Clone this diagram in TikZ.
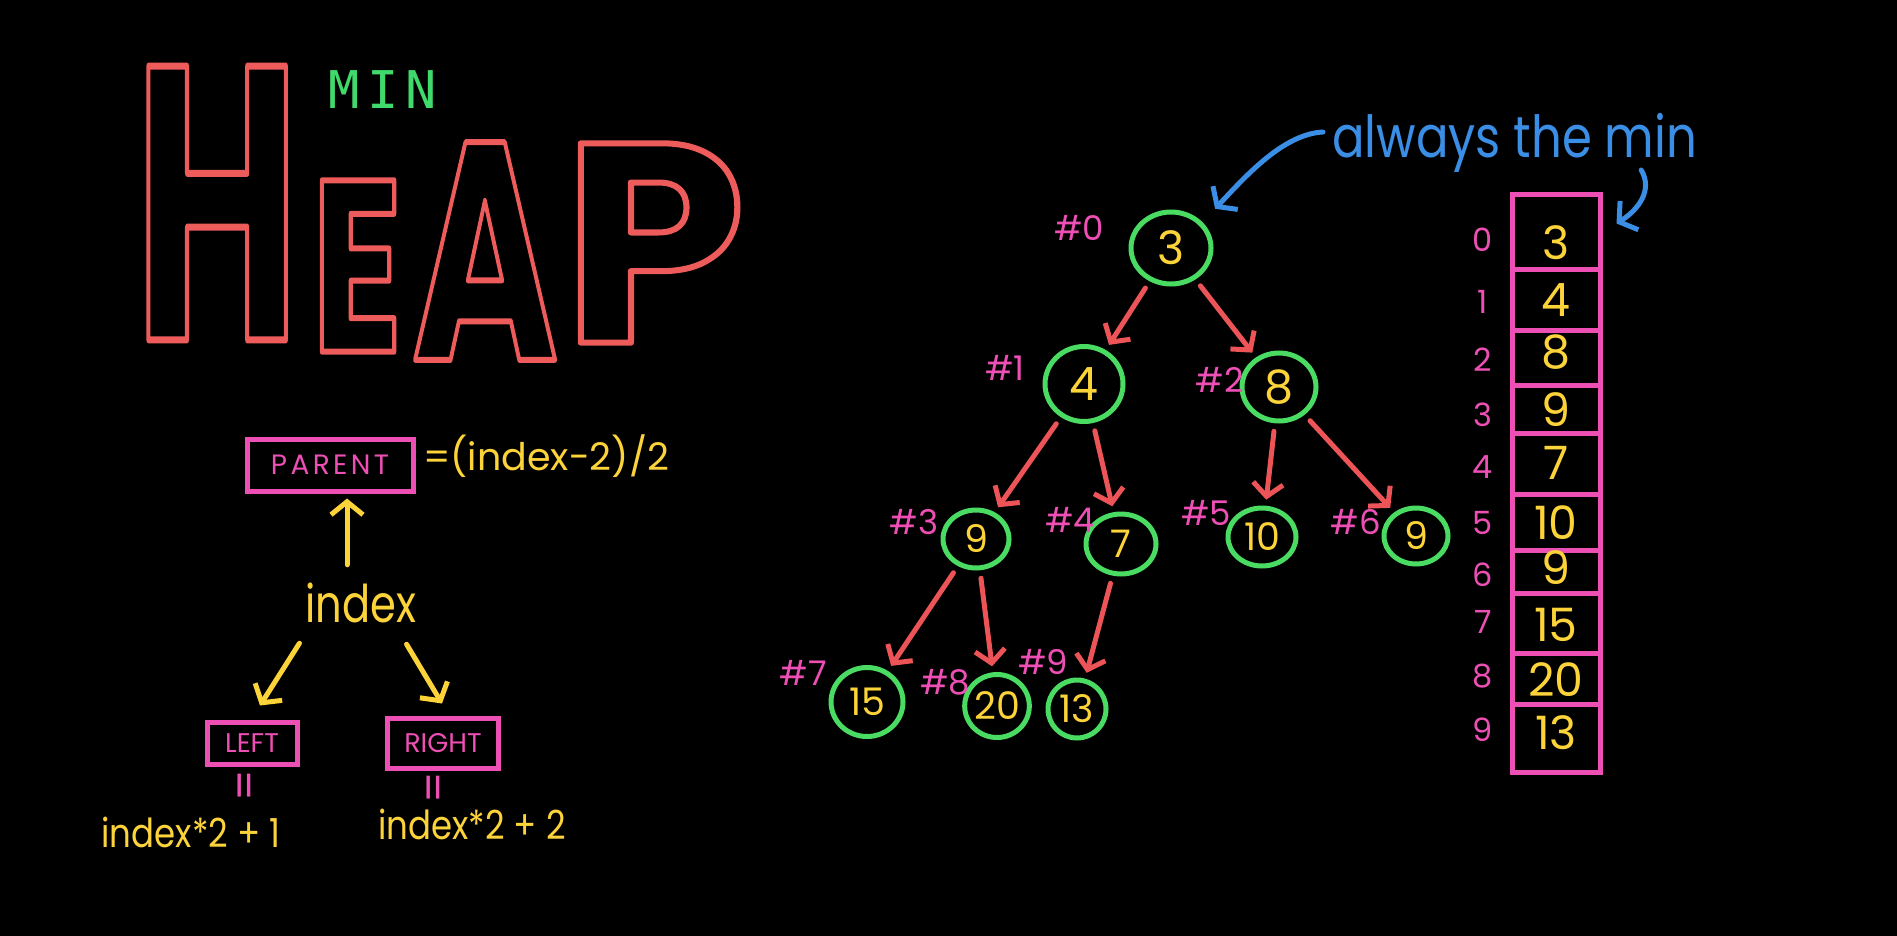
\documentclass[tikz,border=0pt]{standalone}
\usepackage{fontspec}
\usepackage{graphicx}
\setmainfont{Poppins}
\newfontfamily\minfont{DejaVu Sans Mono}
\usetikzlibrary{arrows.meta,shapes.geometric}
\definecolor{heapred}{HTML}{EE5B5B}
\definecolor{mingreen}{HTML}{40D96B}
\definecolor{circgreen}{HTML}{4ADB62}
\definecolor{pinkc}{HTML}{EE4FB5}
\definecolor{yellowc}{HTML}{FDD33A}
\definecolor{arrowred}{HTML}{EC5457}
\definecolor{bluec}{HTML}{3B8EE5}
\newcommand\outl[2]{\special{pdf:literal direct 1 Tr #1 w 1 j}#2\special{pdf:literal direct 0 Tr}}
\newcommand\narrow[2]{\scalebox{#1}[1]{#2}}
\newcommand\fs[1]{\fontsize{#1}{#1}\selectfont}
\begin{document}
\begin{tikzpicture}[x=1pt,y=-1pt,
  letter/.style={inner sep=0pt, text=heapred},
  tnode/.style 2 args={ellipse, draw=circgreen, line width=5pt, inner sep=0pt, minimum width=#1, minimum height=#2, text=yellowc},
  big/.style={font=\fs{46}},
  small/.style={font=\fs{38}},
  hashlabel/.style={text=pinkc, inner sep=0pt, font=\fs{34}},
  tarrow/.style={draw=arrowred, line width=5pt, line cap=round, line join=round, -{Straight Barb[length=13pt,width=30pt]}},
  yarrow/.style={draw=yellowc, line width=5pt, line cap=round, line join=round, -{Straight Barb[length=13pt,width=32pt]}},
  barrow/.style={draw=bluec, line width=5pt, line cap=round, line join=round, -{Straight Barb[length=12pt,width=34pt]}},
  pbox/.style={draw=pinkc, line width=5pt, text=pinkc, inner sep=0pt},
  cell/.style={draw=pinkc, line width=5pt, minimum width=88pt, inner sep=0pt},
  cellval/.style={text=yellowc, inner sep=0pt, font=\fs{46}},
  idxlabel/.style={text=pinkc, inner sep=0pt, font=\fs{32}},
  ytext/.style={text=yellowc, inner sep=0pt},
  eqmark/.style={text=pinkc, inner sep=0pt, rotate=90, font=\fs{44}},
]
\fill[black] (0,0) rectangle (1897,936);
\useasboundingbox (0,0) rectangle (1897,936);

% HEAP title
\node[letter] (H) at (217,203) {\fs{390}\bfseries\narrow{0.58}{\outl{7}{H}}};
\node[letter] (E) at (357,266) {\fs{244}\bfseries\narrow{0.69}{\outl{6}{E}}};
\node[letter] (A) at (485,251) {\fs{310}\bfseries\narrow{0.64}{\outl{6}{A}}};
\node[letter] (P) at (654,243) {\fs{284}\bfseries\narrow{1.03}{\outl{6}{P}}};
\node[inner sep=0pt, text=mingreen] (min) at (383,90) {\minfont\fs{52}\addfontfeatures{LetterSpace=14}MIN};

% formulas
\node[pbox, minimum width=166pt, minimum height=52pt, font=\fs{28}] (par) at (330,465) {\addfontfeatures{LetterSpace=12}PARENT};
\node[ytext, anchor=west, font=\fs{38}] (form) at (423,456) {=(index-2)/2};
\node[ytext, font=\fs{52}] (idx) at (361,603) {\narrow{0.8}{index}};
\node[pbox, minimum width=90pt, minimum height=42pt, font=\fs{27}] (lbox) at (252,743) {LEFT};
\node[pbox, minimum width=111pt, minimum height=50pt, font=\fs{27}] (rbox) at (443,743) {RIGHT};
\node[eqmark] (eqL) at (249,786) {=};
\node[eqmark] (eqR) at (438,788) {=};
\node[ytext, font=\fs{40}] (fL) at (191,832) {\narrow{0.85}{index*2 + 1}};
\node[ytext, font=\fs{40}] (fR) at (472,824) {\narrow{0.85}{index*2 + 2}};
\draw[yarrow] ([shift={(-14,-18)}]idx.north) -- ([shift={(17,5)}]par.south);
\draw[yarrow] ([shift={(-6,20)}]idx.south west) -- ([shift={(8,-14)}]lbox.north);
\draw[yarrow] ([shift={(-10,21)}]idx.south east) -- ([shift={(-1,-12)}]rbox.north);

% tree
\node[tnode={80pt}{72pt}, big] (n0) at (1171,248) {3};
\node[tnode={78pt}{75pt}, big] (n1) at (1084,384) {4};
\node[tnode={74pt}{68pt}, big] (n2) at (1279,387) {8};
\node[tnode={66pt}{58pt}, small] (n3) at (976,539) {9};
\node[tnode={70pt}{60pt}, small] (n4) at (1121,544) {7};
\node[tnode={68pt}{58pt}, small] (n5) at (1262,537) {10};
\node[tnode={64pt}{56pt}, small] (n6) at (1416,536) {9};
\node[tnode={72pt}{69pt}, small] (n7) at (867,702) {15};
\node[tnode={64pt}{63pt}, small] (n8) at (997,706) {20};
\node[tnode={58pt}{58pt}, small] (n9) at (1077,709) {13};

\node[hashlabel] (h0) at (1079,228) {\#0};
\node[hashlabel] (h1) at (1005,368) {\#1};
\node[hashlabel] (h2) at (1220,380) {\#2};
\node[hashlabel] (h3) at (914,522) {\#3};
\node[hashlabel] (h4) at (1070,520) {\#4};
\node[hashlabel] (h5) at (1206,513) {\#5};
\node[hashlabel] (h6) at (1356,522) {\#6};
\node[hashlabel] (h7) at (803,673) {\#7};
\node[hashlabel] (h8) at (945,682) {\#8};
\node[hashlabel] (h9) at (1043,662) {\#9};

\draw[tarrow, shorten <=8pt, shorten >=6pt] (n0) -- (n1);
\draw[tarrow, shorten <=8pt, shorten >=6pt] (n0) -- (n2);
\draw[tarrow, shorten <=8pt, shorten >=6pt] (n1) -- (n3);
\draw[tarrow, shorten <=8pt, shorten >=6pt] (n1) -- (n4);
\draw[tarrow, shorten <=8pt, shorten >=6pt] (n2) -- (n5);
\draw[tarrow, shorten <=8pt, shorten >=6pt] (n2) -- (n6);
\draw[tarrow, shorten <=8pt, shorten >=6pt] (n3) -- (n7);
\draw[tarrow, shorten <=8pt, shorten >=6pt] (n3) -- (n8);
\draw[tarrow, shorten <=8pt, shorten >=6pt] (n4) -- (n9);

% array
\node[cell, minimum height=74pt] (c0) at (1556,232) {};
\node[cell, minimum height=61pt] (c1) at (1556,299.5) {};
\node[cell, minimum height=55pt] (c2) at (1556,357.5) {};
\node[cell, minimum height=48pt] (c3) at (1556,409) {};
\node[cell, minimum height=61pt] (c4) at (1556,463.5) {};
\node[cell, minimum height=56pt] (c5) at (1556,522) {};
\node[cell, minimum height=43pt] (c6) at (1556,571.5) {};
\node[cell, minimum height=60pt] (c7) at (1556,623) {};
\node[cell, minimum height=51pt] (c8) at (1556,678.5) {};
\node[cell, minimum height=68pt] (c9) at (1556,738) {};

\node[cellval] (v0) at (1556,243) {3};
\node[cellval] (v1) at (1556,300) {4};
\node[cellval] (v2) at (1556,352) {8};
\node[cellval] (v3) at (1556,410) {9};
\node[cellval] (v4) at (1556,463) {7};
\node[cellval] (v5) at (1556,523) {10};
\node[cellval] (v6) at (1556,568) {9};
\node[cellval] (v7) at (1556,625) {15};
\node[cellval] (v8) at (1556,680) {20};
\node[cellval] (v9) at (1556,733) {13};

\node[idxlabel] (i0) at (1483,240) {0};
\node[idxlabel] (i1) at (1483,302) {1};
\node[idxlabel] (i2) at (1483,360) {2};
\node[idxlabel] (i3) at (1483,415) {3};
\node[idxlabel] (i4) at (1483,467) {4};
\node[idxlabel] (i5) at (1483,523) {5};
\node[idxlabel] (i6) at (1483,575) {6};
\node[idxlabel] (i7) at (1483,622) {7};
\node[idxlabel] (i8) at (1483,676) {8};
\node[idxlabel] (i9) at (1483,730) {9};

% always the min
\node[text=bluec, inner sep=0pt, font=\fs{58}, anchor=base west] (amin) at (1332,158) {\narrow{0.83}{always the min}};
\draw[barrow] ([shift={(-9,-26)}]amin.base west) .. controls +(-40,2) and +(30,-32) .. ([shift={(14,-12)}]n0.north east);
\draw[barrow] ([shift={(-56,12)}]amin.base east) .. controls +(12,20) and +(22,-14) .. ([shift={(14,31)}]c0.north east);
\end{tikzpicture}
\end{document}
